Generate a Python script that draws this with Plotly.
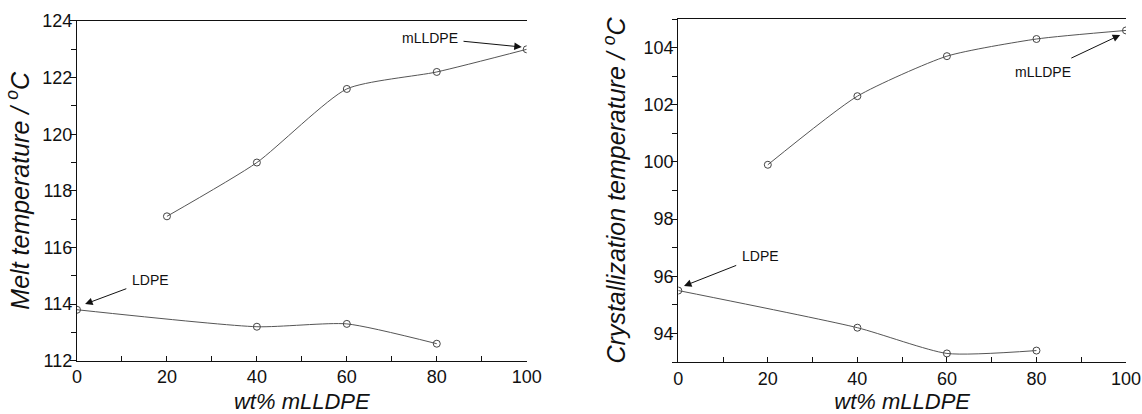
import plotly.graph_objects as go

# ---- data ----
wt_upper = [20, 40, 60, 80, 100]
wt_lower = [0, 40, 60, 80]

melt_upper = [117.1, 119.0, 121.6, 122.2, 123.0]
melt_lower = [113.8, 113.2, 113.3, 112.6]

cryst_upper = [99.9, 102.3, 103.7, 104.3, 104.6]
cryst_lower = [95.5, 94.2, 93.3, 93.4]

x_ticks = [0, 20, 40, 60, 80, 100]
melt_ticks = [112, 114, 116, 118, 120, 122, 124]
cryst_ticks = [94, 96, 98, 100, 102, 104]

FONT = "Arial, Liberation Sans, sans-serif"
LINE_C = "#555555"
MARK_C = "#444444"
AX_C = "#111111"

fig = go.Figure()

def add_series(x, y, xa, ya):
    fig.add_trace(go.Scatter(
        x=x, y=y, xaxis=xa, yaxis=ya, mode="lines+markers",
        line=dict(color=LINE_C, width=1, shape="spline", smoothing=0.6),
        marker=dict(symbol="circle-open", size=7, color=MARK_C,
                    line=dict(width=1, color=MARK_C)),
        showlegend=False, hoverinfo="x+y"))

add_series(wt_upper, melt_upper, "x", "y")
add_series(wt_lower, melt_lower, "x", "y")
add_series(wt_upper, cryst_upper, "x2", "y3")
add_series(wt_lower, cryst_lower, "x2", "y3")

tickfont = dict(family=FONT, size=18, color="#111111")
xtitlefont = dict(family=FONT, size=22, color="#111111")
ytitlefont = dict(family=FONT, size=25, color="#111111")

def xaxis_cfg(domain, anchor):
    return dict(domain=domain, anchor=anchor, range=[0, 100],
                tickvals=x_ticks, ticks="inside", ticklen=5, tickwidth=1,
                tickcolor=AX_C, ticklabelstandoff=0,
                minor=dict(dtick=10, tick0=0, ticks="inside", ticklen=5,
                           tickwidth=1, tickcolor=AX_C),
                showline=True, linecolor=AX_C, linewidth=1.2, mirror=True,
                showgrid=False, zeroline=False, tickfont=tickfont,
                title=dict(text="<i>wt% mLLDPE</i>", font=xtitlefont, standoff=7),
                automargin=False)

def yaxis_cfg(domain, anchor, rng, ticks, title, standoff):
    return dict(domain=domain, anchor=anchor, range=rng, tickvals=ticks,
                ticks="outside", ticklen=6, tickwidth=1, tickcolor=AX_C,
                ticklabelstandoff=-6,
                minor=dict(dtick=1, ticks="outside", ticklen=5, tickwidth=1,
                           tickcolor=AX_C),
                showline=True, linecolor=AX_C, linewidth=1.2,
                showgrid=False, zeroline=False, tickfont=tickfont,
                title=dict(text=title, font=ytitlefont, standoff=standoff),
                automargin=False)

def yaxis_right(overlay, anchor, rng, ticks):
    return dict(overlaying=overlay, anchor=anchor, side="right", range=rng,
                tickvals=ticks, ticks="inside", ticklen=6, tickwidth=1,
                tickcolor=AX_C,
                minor=dict(dtick=1, ticks="inside", ticklen=5, tickwidth=1,
                           tickcolor=AX_C),
                showticklabels=False, showline=True, linecolor=AX_C,
                linewidth=1.2, showgrid=False, zeroline=False,
                automargin=False)

fig.update_layout(
    width=1142, height=414,
    margin=dict(l=77, r=16, t=19, b=52),
    paper_bgcolor="white", plot_bgcolor="white",
    font=dict(family=FONT, color="#111111"),
    xaxis=xaxis_cfg([0.0, 0.4287], "y"),
    yaxis=yaxis_cfg([0.0038, 0.9942], "x", [112, 124], melt_ticks,
                    "<i>Melt temperature / <sup>o</sup>C</i>", 5),
    yaxis2=yaxis_right("y", "x", [112, 124], melt_ticks),
    xaxis2=xaxis_cfg([0.5732, 1.0], "y3"),
    yaxis3=yaxis_cfg([0.0, 1.0], "x2", [93, 105], cryst_ticks,
                     "<i>Crystallization temperature / <sup>o</sup>C</i>", 10),
    yaxis4=yaxis_right("y3", "x2", [93, 105], cryst_ticks),
)

annfont = dict(family=FONT, size=14, color="#111111")

def callout(xref, yref, hx, hy, tx, ty, txt):
    # text centred at (tx, ty); arrow runs from the text box to (hx, hy)
    fig.add_annotation(x=hx, y=hy, ax=tx, ay=ty, xref=xref, yref=yref,
                       axref=xref, ayref=yref, text=txt, font=annfont,
                       showarrow=True, arrowhead=2, arrowsize=1.5,
                       arrowwidth=1, arrowcolor="#111111", borderpad=5)

# left plot
callout("x", "y", 98.9, 123.08, 78.5, 123.4, "mLLDPE")
callout("x", "y", 1.8, 114.0, 16.3, 114.86, "LDPE")
# right plot
callout("x2", "y3", 98.7, 104.44, 81.4, 103.16, "mLLDPE")
callout("x2", "y3", 1.27, 95.66, 18.3, 96.71, "LDPE")

fig.write_html("out.html",
               config={"displayModeBar": False},
               post_script="document.body.style.margin='0';"
                           "document.body.style.overflow='hidden';")
